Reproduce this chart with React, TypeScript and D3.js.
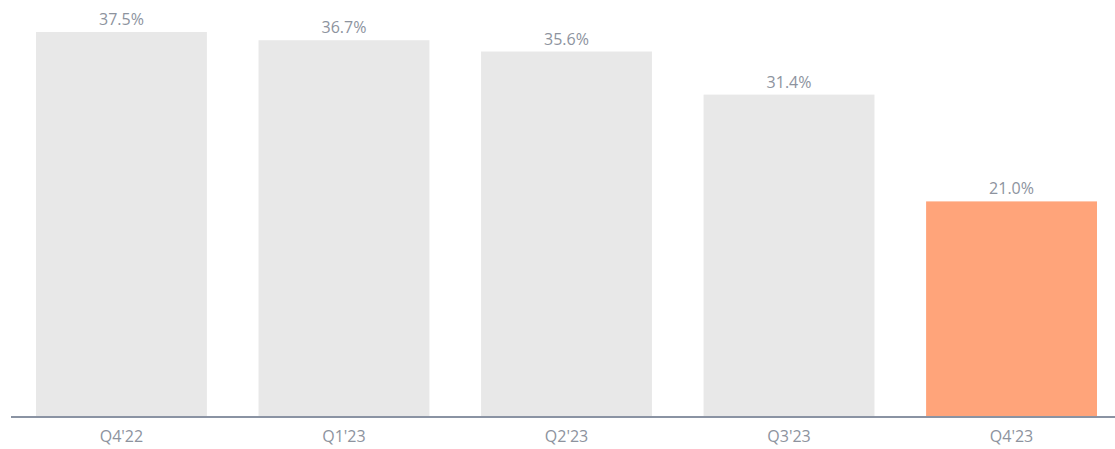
import React from 'react';
import { scaleBand, scaleLinear } from 'd3';

const quarters = ["Q4'22", "Q1'23", "Q2'23", "Q3'23", "Q4'23"];
const shares = [37.5, 36.7, 35.6, 31.4, 21.0];
const highlight = ["Q4'23"];

const width = 1115;
const height = 449;
const baseline = 417;

const App = () => {
  const x = scaleBand<string>()
    .domain(quarters)
    .range([36, 1097])
    .paddingInner(0.232)
    .paddingOuter(0);

  const y = scaleLinear()
    .domain([0, 37.5])
    .range([baseline, 32]);

  const font = '"Open Sans", "Noto Sans", sans-serif';

  return (
    <svg
      width={width}
      height={height}
      style={{ position: 'absolute', left: 0, top: 0, background: '#fff' }}
    >
      {quarters.map((q, i) => (
        <g key={q}>
          <rect
            x={x(q)}
            y={y(shares[i])}
            width={x.bandwidth()}
            height={baseline - y(shares[i])}
            fill={highlight.includes(q) ? '#ffa47a' : '#e8e8e8'}
          />
          <text
            x={(x(q) ?? 0) + x.bandwidth() / 2}
            y={y(shares[i]) - 7}
            textAnchor='middle'
            fontFamily={font}
            fontSize={16}
            fill='#8d939e'
          >
            {shares[i].toFixed(1)}%
          </text>
          <text
            x={(x(q) ?? 0) + x.bandwidth() / 2}
            y={baseline + 25}
            textAnchor='middle'
            fontFamily={font}
            fontSize={16}
            fill='#8d939e'
          >
            {q}
          </text>
        </g>
      ))}
      <line x1={11} x2={width} y1={baseline} y2={baseline} stroke='#8a93a3' strokeWidth={2} />
    </svg>
  );
};

export default App;
